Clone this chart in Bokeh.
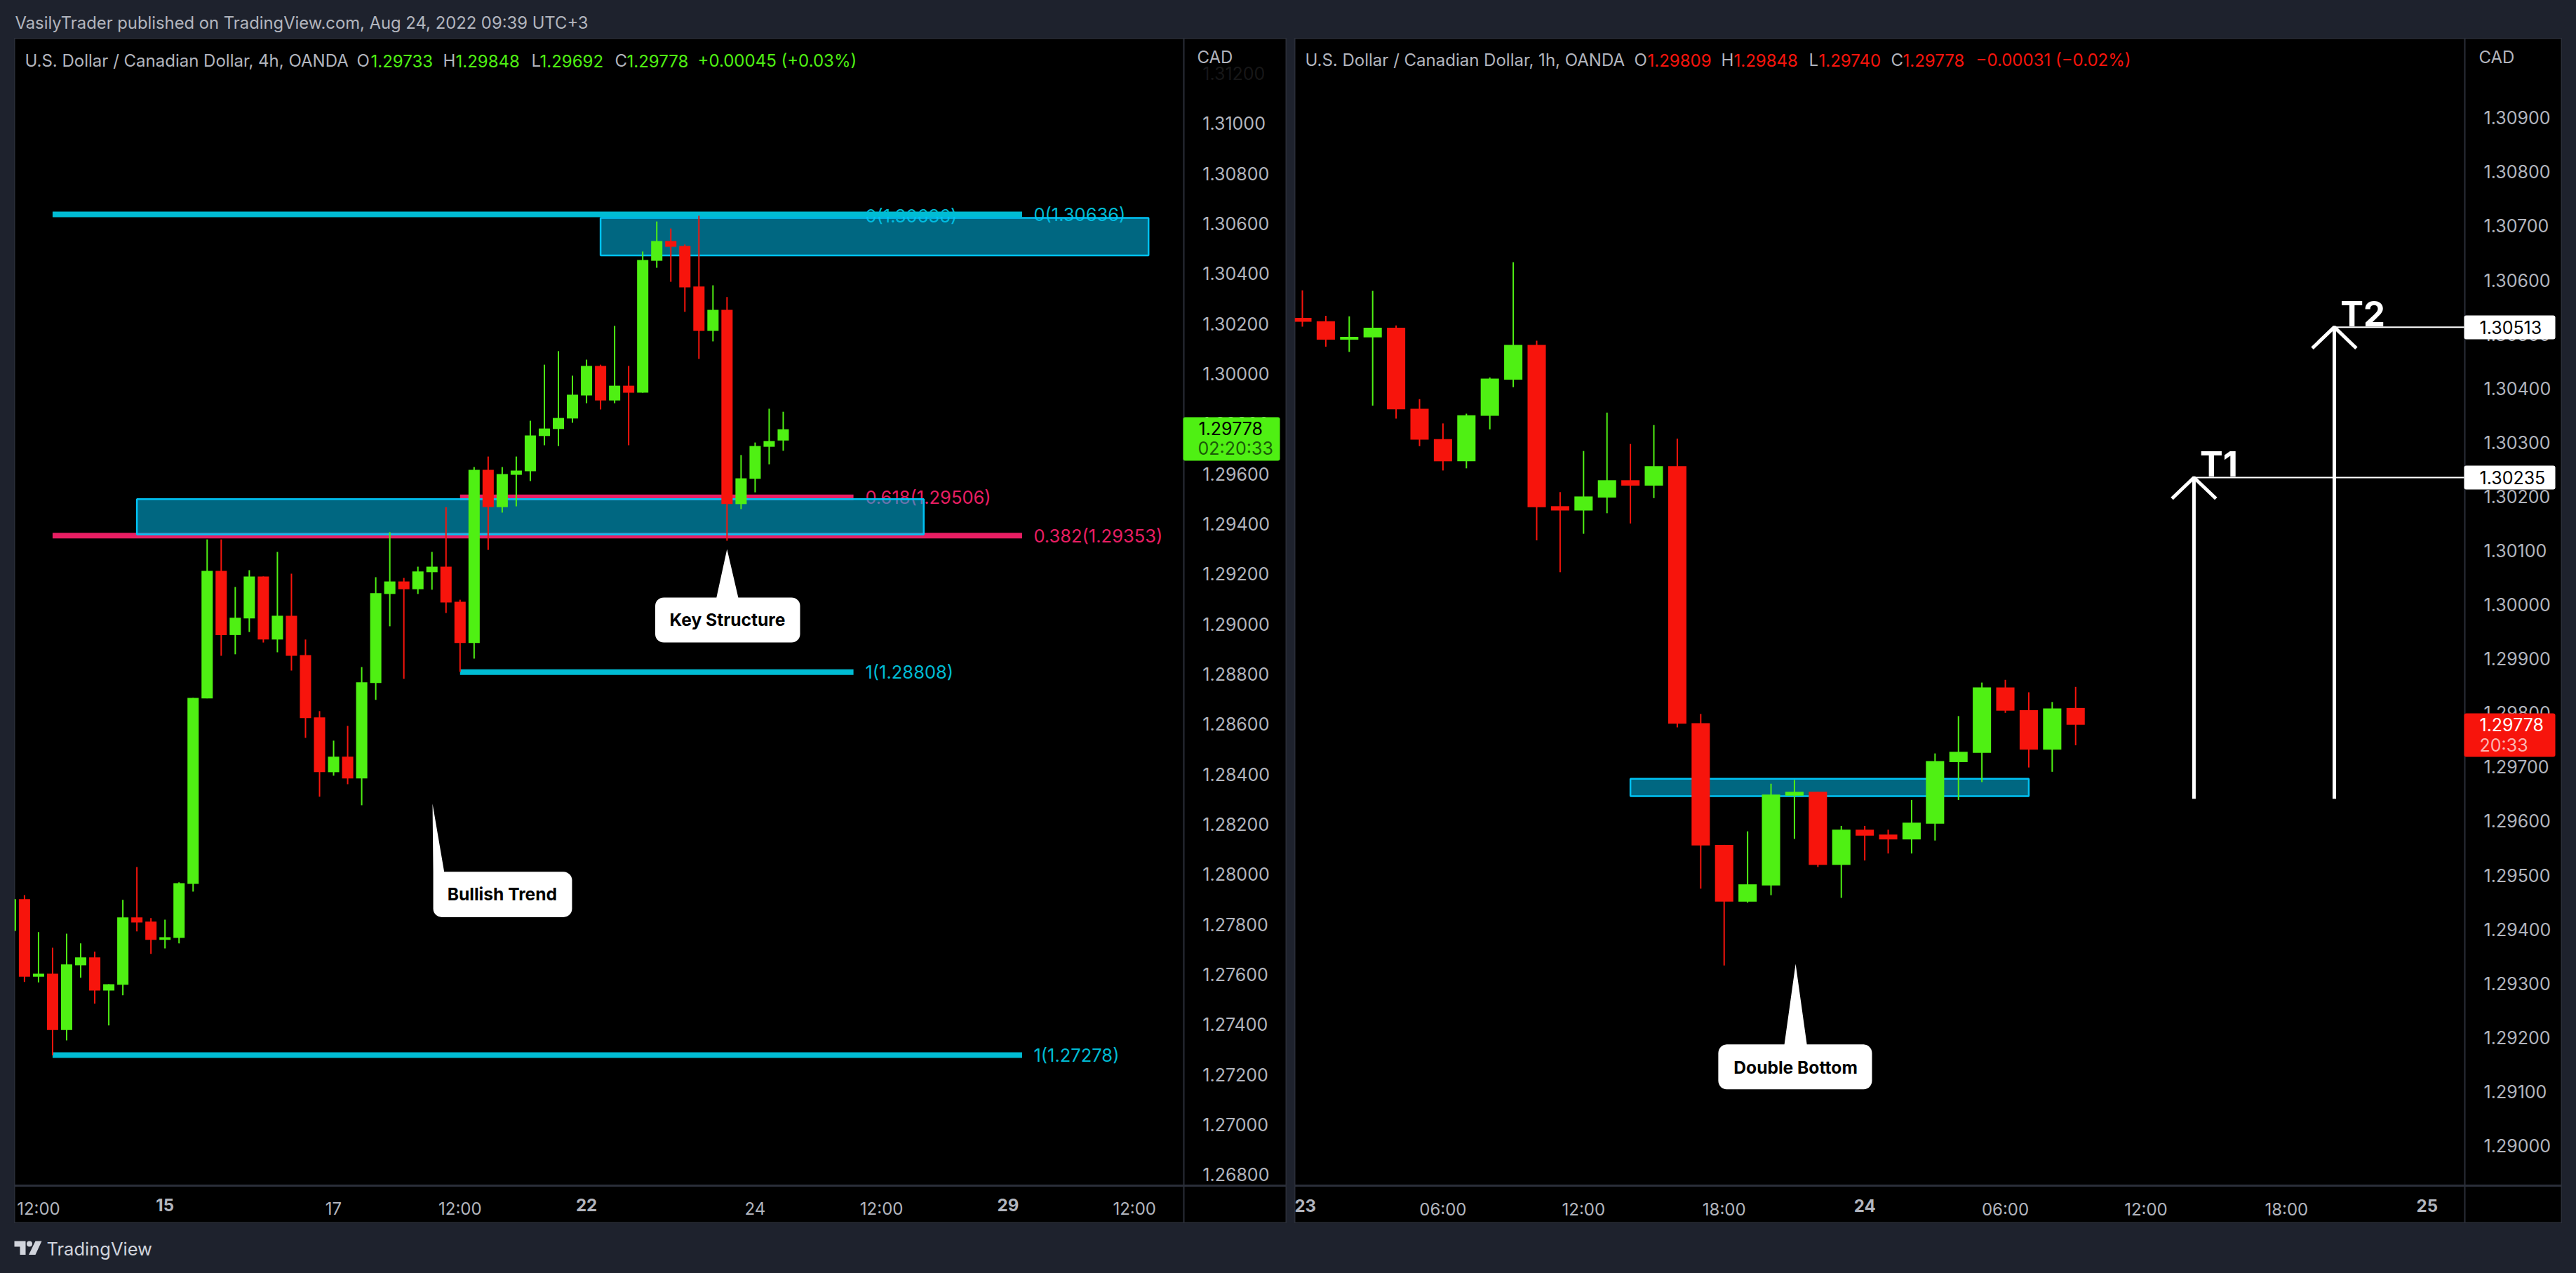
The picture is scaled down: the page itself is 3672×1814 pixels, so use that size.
import numpy as np
from bokeh.core.properties import value
from bokeh.embed import file_html
from bokeh.resources import INLINE
from bokeh.plotting import figure
from bokeh.layouts import column, row
from bokeh.models import (BoxAnnotation, FixedTicker, Label, LinearAxis, NumeralTickFormatter, Range1d)

# ---------- 4h chart ----------
h4_open = [1.27774,1.27901,1.27591,1.27603,1.27378,1.27637,1.27668,1.27536,1.27559,1.27828,1.27811,1.27738,1.27746,1.27962,1.28703,1.29212,1.28956,1.29022,1.29190,1.28938,1.29033,1.28876,1.28627,1.28408,1.28470,1.28383,1.28764,1.29120,1.29170,1.29139,1.29207,1.29229,1.29089,1.28924,1.29616,1.29467,1.29596,1.29610,1.29751,1.29779,1.29821,1.29913,1.30031,1.29893,1.29952,1.29924,1.30451,1.30530,1.30510,1.30348,1.30171,1.30255,1.29479,1.29580,1.29708,1.29733]
h4_high = [1.27901,1.27917,1.27769,1.27707,1.27763,1.27724,1.27691,1.27561,1.27898,1.28029,1.27825,1.27819,1.27968,1.28705,1.29338,1.29338,1.29148,1.29215,1.29190,1.29288,1.29201,1.28938,1.28652,1.28534,1.28593,1.28828,1.29187,1.29367,1.29184,1.29229,1.29288,1.29467,1.29097,1.29627,1.29669,1.29627,1.29669,1.29812,1.30036,1.30090,1.29992,1.30056,1.30036,1.30191,1.30031,1.30488,1.30608,1.30580,1.30516,1.30631,1.30353,1.30306,1.29675,1.29725,1.29860,1.29848]
h4_low = [1.27774,1.27570,1.27568,1.27277,1.27337,1.27587,1.27483,1.27396,1.27517,1.27772,1.27682,1.27704,1.27724,1.27931,1.28703,1.28873,1.28879,1.28968,1.28926,1.28887,1.28814,1.28545,1.28310,1.28394,1.28360,1.28276,1.28697,1.28991,1.28781,1.29120,1.29137,1.29044,1.28809,1.28862,1.29296,1.29445,1.29470,1.29571,1.29714,1.29711,1.29804,1.29882,1.29857,1.29882,1.29714,1.29924,1.30423,1.30367,1.30247,1.30059,1.30129,1.29333,1.29459,1.29526,1.29638,1.29692]
h4_close = [1.27901,1.27591,1.27603,1.27378,1.27640,1.27668,1.27536,1.27561,1.27828,1.27808,1.27738,1.27749,1.27965,1.28705,1.29212,1.28956,1.29025,1.29190,1.28938,1.29033,1.28873,1.28624,1.28408,1.28470,1.28383,1.28767,1.29123,1.29170,1.29139,1.29210,1.29229,1.29086,1.28924,1.29616,1.29467,1.29599,1.29613,1.29753,1.29781,1.29823,1.29916,1.30031,1.29893,1.29952,1.29924,1.30454,1.30530,1.30507,1.30345,1.30171,1.30255,1.29479,1.29582,1.29711,1.29731,1.29778]
h4_ticks = [1.268,1.270,1.272,1.274,1.276,1.278,1.280,1.282,1.284,1.286,1.288,1.290,1.292,1.294,1.296,1.298,1.300,1.302,1.304,1.306,1.308,1.310]
h4_faded_tick = [1.312]
h4_time_ticks = [1, 22, 31, 52, 61, 79]
h4_time_labels = ["12:00", "17", "12:00", "24", "12:00", "12:00"]
h4_bold_ticks = [10, 40, 70]
h4_bold_labels = ["15", "22", "29"]
fib_labels = ["0(1.30636)", "0.382(1.29353)", "0.618(1.29506)", "1(1.28808)", "1(1.27278)"]
fib_values = [1.30636, 1.29353, 1.29506, 1.28808, 1.27278]
fib_start = [2, 2, 31, 31, 2]
fib_end = [71, 71, 59, 59, 71]
fib_colors = ["#00bcd4", "#e91e63", "#e91e63", "#00bcd4", "#00bcd4"]

# ---------- 1h chart ----------
h1_open = [1.30530,1.30524,1.30490,1.30494,1.30512,1.30362,1.30306,1.30265,1.30349,1.30416,1.30480,1.30182,1.30174,1.30198,1.30230,1.30220,1.30256,1.29781,1.29556,1.29451,1.29481,1.29647,1.29654,1.29519,1.29584,1.29575,1.29566,1.29595,1.29709,1.29726,1.29847,1.29805,1.29732,1.29809]
h1_high = [1.30581,1.30534,1.30533,1.30580,1.30516,1.30380,1.30335,1.30353,1.30420,1.30633,1.30488,1.30208,1.30284,1.30355,1.30297,1.30332,1.30307,1.29798,1.29556,1.29581,1.29669,1.29676,1.29654,1.29591,1.29591,1.29584,1.29639,1.29725,1.29794,1.29856,1.29861,1.29838,1.29820,1.29848]
h1_low = [1.30514,1.30477,1.30467,1.30368,1.30344,1.30293,1.30248,1.30252,1.30324,1.30402,1.30119,1.30060,1.30131,1.30169,1.30150,1.30197,1.29773,1.29475,1.29333,1.29449,1.29463,1.29567,1.29515,1.29458,1.29527,1.29540,1.29540,1.29564,1.29639,1.29672,1.29800,1.29699,1.29691,1.29740]
h1_close = [1.30523,1.30490,1.30495,1.30512,1.30361,1.30305,1.30265,1.30350,1.30418,1.30480,1.30180,1.30174,1.30200,1.30230,1.30220,1.30256,1.29780,1.29555,1.29451,1.29483,1.29649,1.29654,1.29519,1.29584,1.29573,1.29566,1.29597,1.29711,1.29728,1.29847,1.29804,1.29732,1.29808,1.29778]
h1_ticks = [1.290,1.291,1.292,1.293,1.294,1.295,1.296,1.297,1.298,1.299,1.300,1.301,1.302,1.303,1.304,1.305,1.306,1.307,1.308,1.309]
h1_time_ticks = [6, 12, 18, 30, 36, 42]
h1_time_labels = ["06:00", "12:00", "18:00", "06:00", "12:00", "18:00"]
h1_bold_ticks = [0, 24, 48]
h1_bold_labels = ["23", "24", "25"]
target_names = ["T1", "T2"]
target_prices = [1.30235, 1.30513]
target_x = [38.05, 44.04]
target_foot = 1.29641

BG = "#1e222d"
EDGE = "#2a2e39"
GRAY = "#b2b5be"
GREEN = "#4ff013"
RED = "#f7140c"
FONT = "Inter"
FS = "24px"
TICK_FS = "25px"


def style_price_axis(ax, ticks, at):
    ax.ticker = FixedTicker(ticks=ticks)
    ax.formatter = NumeralTickFormatter(format="0.00000")
    ax.fixed_location = at
    ax.major_tick_line_color = None
    ax.minor_tick_line_color = None
    ax.axis_line_color = EDGE
    ax.axis_line_width = 2
    ax.major_label_standoff = 21
    ax.major_label_text_color = GRAY
    ax.major_label_text_font = FONT
    ax.major_label_text_font_size = TICK_FS


def style_time_axis(ax, ticks, labels, at, bold=False):
    ax.ticker = FixedTicker(ticks=ticks)
    ax.major_label_overrides = {t: s for t, s in zip(ticks, labels)}
    ax.fixed_location = at
    ax.major_tick_line_color = None
    ax.minor_tick_line_color = None
    ax.axis_line_color = EDGE
    ax.axis_line_width = 3
    ax.major_label_standoff = 13
    ax.major_label_text_color = GRAY
    ax.major_label_text_font = FONT
    ax.major_label_text_font_size = FS
    ax.major_label_text_font_style = "bold" if bold else "normal"


def make_panel(w, h, xr, yr, ticks, tt, tl, bt, bl, axis_x, axis_y, margin):
    p = figure(width=w, height=h, x_range=Range1d(*xr), y_range=Range1d(*yr),
               toolbar_location=None, output_backend="svg", y_axis_location="right",
               min_border=0, background_fill_color="black", border_fill_color="black",
               outline_line_color=EDGE, outline_line_width=2, margin=margin)
    p.grid.visible = False
    style_price_axis(p.yaxis[0], ticks, axis_x)
    style_time_axis(p.xaxis[0], tt, tl, axis_y)
    ba = LinearAxis()
    style_time_axis(ba, bt, bl, axis_y, bold=True)
    p.add_layout(ba, "below")
    return p


def candles(p, o, h, l, c, first, width):
    o, h, l, c = map(np.array, (o, h, l, c))
    x = np.arange(len(o)) + first
    up = c >= o
    for mask, col in ((up, GREEN), (~up, RED)):
        p.segment(x[mask], h[mask], x[mask], l[mask], line_color=col, line_width=2)
        p.vbar(x[mask], width, np.maximum(o, c)[mask], np.minimum(o, c)[mask],
               fill_color=col, line_color=None)


def zone(p, x0, x1, y0, y1):
    p.quad(left=[x0], right=[x1], bottom=[y0], top=[y1], fill_color="#00bceb", fill_alpha=0.55,
           line_color="#00c3f5", line_width=2.5)


def gtext(p, x, y, text, color, size, style="normal", align="left", baseline="middle"):
    p.text(x, y, text=text, text_font=value(FONT), text_font_size=value(size), text_font_style=value(style),
           text_color=color, text_align=align, text_baseline=baseline)


def callout(p, x0, x1, y0, y1, rx, ry, tip, text, tx, ty, corner=True):
    """White rounded box plus pointer; tip = points of the pointer running over the top edge."""
    t = np.linspace(0, np.pi / 2, 8)
    xs = list(x1 - rx + rx * np.sin(t))
    ys = list(y1 - ry + ry * np.cos(t))
    xs += list(x1 - rx + rx * np.cos(t))
    ys += list(y0 + ry - ry * np.sin(t))
    xs += list(x0 + rx - rx * np.sin(t))
    ys += list(y0 + ry - ry * np.cos(t))
    if corner:
        xs += list(x0 + rx - rx * np.cos(t))
        ys += list(y1 - ry + ry * np.sin(t))
    else:
        xs += [x0]
        ys += [y1]
    xs += [a for a, _ in tip]
    ys += [b for _, b in tip]
    p.patch(xs, ys, fill_color="white", line_color=None)
    gtext(p, [tx], [ty], [text], "black", "24.6px", "bold", "center")


def lbl(p, ox, oy, x, y, text, color=GRAY, size=FS, style="normal", alpha=1.0, font=FONT):
    p.add_layout(Label(x=x - ox, y=y - oy, x_units="canvas", y_units="canvas", text=text,
                       text_color=color, text_font=font, text_font_size=size, text_font_style=style,
                       text_alpha=alpha, text_baseline="middle", text_align="left"))


def cbox(p, l, r, t, b, fill):
    p.add_layout(BoxAnnotation(left=l, right=r, top=t, bottom=b, left_units="canvas", right_units="canvas",
                               top_units="canvas", bottom_units="canvas", fill_color=fill, fill_alpha=1,
                               line_color=None, border_radius=3))


# ---------- left ----------
OX1, OY = 20, 54
left = make_panel(1814, 1689, (-0.719, 89.85), (1.26605, 1.31340), h4_ticks, h4_time_ticks, h4_time_labels,
                  h4_bold_ticks, h4_bold_labels, 82.5, 1.26757, (0, 0, 0, 12))
fa = LinearAxis()
style_price_axis(fa, h4_faded_tick, 82.5)
fa.axis_line_color = None
fa.major_label_text_alpha = 0.14
left.add_layout(fa, "right")
lab_x = [71.82, 71.82, 59.84, 59.84, 71.82]
FIB_FS = "25.5px"
gtext(left, [59.84], [1.30632], ["0(1.30636)"], "#00bcd4", FIB_FS)
gtext(left, lab_x, fib_values, fib_labels, fib_colors, FIB_FS)
left.segment(fib_start, fib_values, fib_end, fib_values, line_color=fib_colors, line_width=8)
zone(left, 41.0, 80.0, 1.30472, 1.30622)
zone(left, 8.0, 64.0, 1.29358, 1.29499)
candles(left, h4_open, h4_high, h4_low, h4_close, -1, 0.8)
callout(left, 44.89, 55.2, 1.28926, 1.29106, 0.62, 0.00033,
        [(49.25, 1.29106), (50.0, 1.29299), (50.8, 1.29106)], "Key Structure", 50.03, 1.29016)
callout(left, 29.09, 38.97, 1.27829, 1.28010, 0.62, 0.00033,
        [(29.04, 1.28282), (29.87, 1.28010)], "Bullish Trend", 34.0, 1.27920, corner=False)
lbl(left, OX1, OY, 35, 86, "U.S. Dollar / Canadian Dollar, 4h, OANDA")
for x, s, c in [(508, "O", GRAY), (528, "1.29733", GREEN), (631, "H", GRAY), (649, "1.29848", GREEN), (757, "L", GRAY),
                (769, "1.29692", GREEN), (876, "C", GRAY), (893, "1.29778", GREEN), (994, "+0.00045 (+0.03%)", GREEN)]:
    lbl(left, OX1, OY, x, 86, s, c)
lbl(left, OX1, OY, 1706, 81, "CAD")
cbox(left, 1686 - OX1, 1824 - OX1, 594 - OY, 656 - OY, GREEN)
lbl(left, OX1, OY, 1708, 610, "1.29778", "black", TICK_FS)
lbl(left, OX1, OY, 1707, 638, "02:20:33", "#1a5c08", TICK_FS)

# ---------- right ----------
OX2 = 1845
right = make_panel(1807, 1689, (-0.329, 53.77), (1.28856, 1.31047), h1_ticks, h1_time_ticks, h1_time_labels,
                   h1_bold_ticks, h1_bold_labels, 49.61, 1.28926, (0, 0, 0, 11))
zone(right, 14.0, 31.0, 1.29646, 1.29678)
candles(right, h1_open, h1_high, h1_low, h1_close, 0, 0.78)
for x, p_, name in zip(target_x, target_prices, target_names):
    right.line([x, x], [target_foot, p_], line_color="white", line_width=5)
    right.line([x - 0.94, x, x + 0.94], [p_ - 0.00039, p_, p_ - 0.00039], line_color="white", line_width=5)
    right.segment([x], [p_], [49.61], [p_], line_color="white", line_width=2)
    gtext(right, [x + 0.26], [p_ + 0.00024], [name], "white", "49px", "bold")
callout(right, 17.75, 24.31, 1.29104, 1.29187, 0.36, 0.00016,
        [(20.57, 1.29187), (21.05, 1.29336), (21.53, 1.29187)], "Double Bottom", 21.05, 1.29145)
lbl(right, OX2, OY, 1860, 85, "U.S. Dollar / Canadian Dollar, 1h, OANDA")
for x, s, c in [(2329, "O", GRAY), (2348, "1.29809", RED), (2453, "H", GRAY), (2471, "1.29848", RED), (2578, "L", GRAY),
                (2592, "1.29740", RED), (2695, "C", GRAY), (2712, "1.29778", RED), (2816, "−0.00031 (−0.02%)", RED)]:
    lbl(right, OX2, OY, x, 85, s, c)
lbl(right, OX2, OY, 3533, 81, "CAD")
for top, bot, s in [(449, 483, "1.30513"), (663, 697, "1.30235")]:
    cbox(right, 3512 - OX2, 3642 - OX2, top - OY, bot - OY, "white")
    lbl(right, OX2, OY, 3534, (top + bot) / 2, s, "black", TICK_FS)
cbox(right, 3512 - OX2, 3642 - OX2, 1016 - OY, 1078 - OY, RED)
lbl(right, OX2, OY, 3534, 1032, "1.29778", "white", TICK_FS)
lbl(right, OX2, OY, 3534, 1061, "20:33", "#fbb4b0", TICK_FS)


# ---------- header / footer ----------
def strip(h):
    p = figure(width=3656, height=h, x_range=Range1d(0, 3656), y_range=Range1d(h, 0), toolbar_location=None,
               output_backend="svg", x_axis_type=None, y_axis_type=None, min_border=0,
               background_fill_color=BG, border_fill_color=BG, outline_line_color=None)
    p.grid.visible = False
    return p


header = strip(46)
gtext(header, [13], [24], ["VasilyTrader published on TradingView.com, Aug 24, 2022 09:39 UTC+3"], GRAY, "23.8px")

footer = strip(63)
LOGO = "#d1d4dc"
fx, fy = 12, 25
footer.patch([fx, fx + 16, fx + 16, fx + 8, fx + 8, fx], [fy, fy, fy + 19.5, fy + 19.5, fy + 8, fy + 8], fill_color=LOGO, line_color=None)
footer.scatter([fx + 21.5], [fy + 4], size=8, fill_color=LOGO, line_color=None)
footer.patch([fx + 30, fx + 39, fx + 30, fx + 20.5], [fy, fy, fy + 19.5, fy + 19.5], fill_color=LOGO, line_color=None)
gtext(footer, [58], [36], ["TradingView"], LOGO, "25.5px")

doc = column(header, row(left, right), footer, margin=(8, 0, 0, 8))
html = file_html(doc, INLINE)
html = html.replace("</head>", "<style>html,body{background:#1e222d}</style></head>", 1)
open("out.html", "w").write(html)
